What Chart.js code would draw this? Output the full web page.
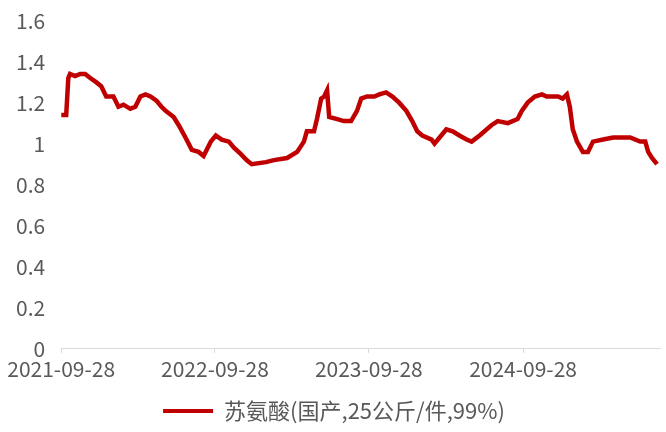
<!DOCTYPE html>
<html>
<head>
<meta charset="utf-8">
<script src="https://cdn.jsdelivr.net/npm/chart.js@4"></script>
<style>
  html, body { margin: 0; padding: 0; background: #fff; }
  #wrap { width: 666px; height: 432px; }
</style>
</head>
<body>
<div id="wrap"><canvas id="chart"></canvas></div>
<script>
// ─── Dados ───────────────────────────────────────────────────────────────
const startDate = '2021-09-28';
const endDate   = '2025-08-19';
const tickDates = ['2021-09-28', '2022-09-28', '2023-09-28', '2024-09-28'];
const yTicks    = [0, 0.2, 0.4, 0.6, 0.8, 1, 1.2, 1.4, 1.6];
const seriesName = '苏氨酸(国产,25公斤/件,99%)';

const dates = [
  '2021-09-28','2021-10-10','2021-10-15','2021-10-19','2021-10-31','2021-11-12','2021-11-24',
  '2021-12-06','2021-12-20','2022-01-01','2022-01-13','2022-01-30','2022-02-11','2022-02-23',
  '2022-03-11','2022-03-23','2022-04-04','2022-04-16','2022-04-28','2022-05-12','2022-05-24',
  '2022-06-03','2022-06-22','2022-07-04','2022-07-20','2022-08-04','2022-08-20','2022-09-01',
  '2022-09-18','2022-09-30','2022-10-14','2022-10-31','2022-11-12','2022-11-28','2022-12-12',
  '2022-12-24','2023-01-27','2023-02-15','2023-03-18','2023-04-11','2023-04-27','2023-05-04',
  '2023-05-21','2023-05-28','2023-06-07','2023-06-14','2023-06-21','2023-06-26','2023-07-15',
  '2023-07-31','2023-08-17','2023-08-31','2023-09-10','2023-09-24','2023-10-11','2023-10-23',
  '2023-11-08','2023-11-23','2023-12-09','2023-12-26','2024-01-09','2024-01-21','2024-02-02',
  '2024-02-24','2024-03-02','2024-03-14','2024-03-30','2024-04-14','2024-04-30','2024-05-17',
  '2024-05-29','2024-06-17','2024-07-15','2024-07-30','2024-08-23','2024-09-15','2024-09-25',
  '2024-10-09','2024-10-26','2024-11-12','2024-11-23','2024-12-05','2024-12-20','2024-12-31',
  '2025-01-10','2025-01-17','2025-01-24','2025-02-03','2025-02-17','2025-03-01','2025-03-13',
  '2025-04-06','2025-04-30','2025-06-09','2025-07-03','2025-07-15','2025-07-22','2025-07-31',
  '2025-08-12'
];

const precos = [
  1.14, 1.14, 1.32, 1.34, 1.33, 1.34, 1.34,
  1.32, 1.30, 1.28, 1.23, 1.23, 1.18, 1.19,
  1.17, 1.18, 1.23, 1.24, 1.23, 1.21, 1.18,
  1.16, 1.13, 1.09, 1.03, 0.97, 0.96, 0.94,
  1.01, 1.04, 1.02, 1.01, 0.98, 0.95, 0.92,
  0.90, 0.91, 0.92, 0.93, 0.96, 1.01, 1.06,
  1.06, 1.12, 1.22, 1.23, 1.26, 1.13, 1.12,
  1.11, 1.11, 1.16, 1.22, 1.23, 1.23, 1.24,
  1.25, 1.23, 1.20, 1.16, 1.11, 1.06, 1.04,
  1.02, 1.00, 1.03, 1.07, 1.06, 1.04, 1.02,
  1.01, 1.04, 1.09, 1.11, 1.10, 1.12, 1.16,
  1.20, 1.23, 1.24, 1.23, 1.23, 1.23, 1.22,
  1.24, 1.18, 1.07, 1.01, 0.96, 0.96, 1.01,
  1.02, 1.03, 1.03, 1.01, 1.01, 0.96, 0.93,
  0.90
];

// ─── Conversão de datas em dias desde o início ──────────────────────────
const dia = d => Math.round((Date.parse(d) - Date.parse(startDate)) / 86400000);
const pontos = dates.map((d, i) => ({ x: dia(d), y: precos[i] }));
const tickDias = tickDates.map(dia);

const vermelho = '#c00000';
const cinza = '#595959';
const fonte = '"Noto Sans CJK SC", "Noto Sans", sans-serif';

new Chart(document.getElementById('chart'), {
  type: 'line',
  data: {
    datasets: [{
      label: seriesName,
      data: pontos,
      borderColor: vermelho,
      backgroundColor: vermelho,
      borderWidth: 4.5,
      pointRadius: 0,
      tension: 0,
      fill: false
    }]
  },
  options: {
    responsive: true,
    maintainAspectRatio: false,
    animation: false,
    layout: { padding: { left: 8, right: 6, top: 8, bottom: 0 } },
    scales: {
      x: {
        type: 'linear',
        min: 0,
        max: dia(endDate),
        afterBuildTicks: axis => { axis.ticks = tickDias.map(v => ({ value: v })); },
        ticks: {
          autoSkip: false,
          maxRotation: 0,
          padding: 4,
          color: cinza,
          font: { family: fonte, size: 21 },
          callback: (v) => tickDates[tickDias.indexOf(v)] || ''
        },
        grid: { display: true, drawOnChartArea: false, tickLength: 4, color: '#d9d9d9' },
        border: { color: '#d9d9d9', width: 1 }
      },
      y: {
        min: 0,
        max: 1.6,
        afterBuildTicks: axis => { axis.ticks = yTicks.map(v => ({ value: v })); },
        ticks: {
          padding: 8,
          color: cinza,
          font: { family: fonte, size: 21 },
          callback: v => String(+v.toFixed(1))
        },
        grid: { display: false },
        border: { display: false }
      }
    },
    plugins: {
      legend: {
        position: 'bottom',
        labels: {
          color: cinza,
          font: { family: fonte, size: 22 },
          boxWidth: 50,
          boxHeight: 4,
          padding: 14,
          generateLabels: chart => Chart.defaults.plugins.legend.labels.generateLabels(chart)
            .map(l => Object.assign(l, { lineWidth: 0 }))
        }
      },
      tooltip: { enabled: false }
    }
  }
});
</script>
</body>
</html>
